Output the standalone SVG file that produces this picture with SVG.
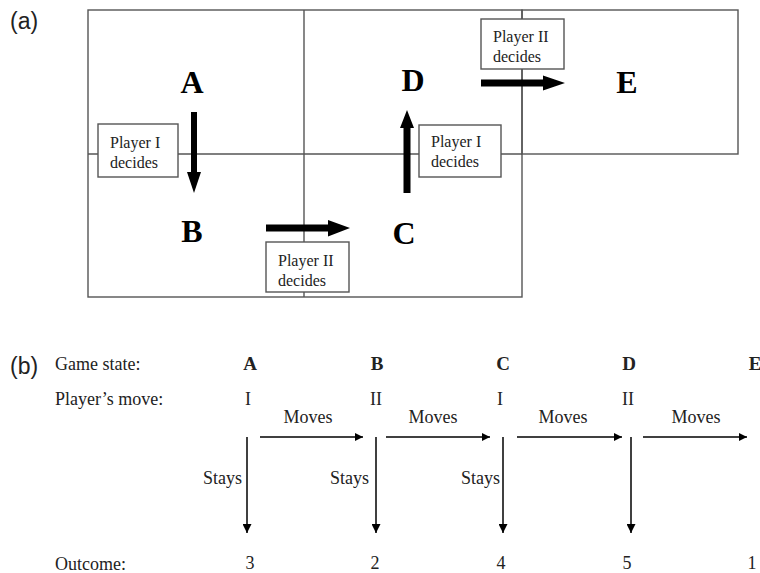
<svg xmlns="http://www.w3.org/2000/svg" width="760" height="573" viewBox="0 0 760 573">
<style>
.grid{fill:none;stroke:#555;stroke-width:1.4}
.box{fill:#fff;stroke:#555;stroke-width:1.4}
.big{font-family:"Liberation Serif",serif;font-weight:bold;font-size:32px;text-anchor:middle;fill:#000}
.bt{font-family:"Liberation Serif",serif;font-size:16px;fill:#222}
.lab{font-family:"Liberation Sans",Arial,sans-serif;font-size:23px;fill:#222}
.t{font-family:"Liberation Serif",serif;font-size:18px;fill:#222}
.st{font-family:"Liberation Serif",serif;font-size:19px;font-weight:bold;fill:#222;text-anchor:middle}
.c{text-anchor:middle}
.e{text-anchor:end}
.fat{fill:#000}
.thin{stroke:#000;stroke-width:1.5;fill:none;marker-end:url(#ah)}
</style>
<defs>
<marker id="ah" viewBox="0 0 10 10" refX="10" refY="5" markerWidth="8" markerHeight="8" markerUnits="userSpaceOnUse" orient="auto">
<path d="M0,0 L10,5 L0,10 z" fill="#000"/>
</marker>
<marker id="ahv" viewBox="0 0 10 10" refX="10" refY="5" markerWidth="9" markerHeight="9" markerUnits="userSpaceOnUse" orient="auto">
<path d="M0,0 L10,5 L0,10 z" fill="#000"/>
</marker>
</defs>
<rect width="760" height="573" fill="#fff"/>

<text class="lab" x="10" y="29">(a)</text>
<text class="lab" x="10" y="374">(b)</text>

<g id="grid">
<rect class="grid" x="88" y="10" width="434" height="287"/>
<rect class="grid" x="522" y="10" width="216" height="144"/>
<line class="grid" x1="304" y1="10" x2="304" y2="297"/>
<line class="grid" x1="88" y1="154" x2="522" y2="154"/>
</g>

<g id="state-A"><text class="big" x="192" y="93">A</text></g>
<g id="state-B"><text class="big" x="192" y="242">B</text></g>
<g id="state-C"><text class="big" x="404" y="244">C</text></g>
<g id="state-D"><text class="big" x="413" y="91">D</text></g>
<g id="state-E"><text class="big" x="627" y="93">E</text></g>

<g id="box-p1-left">
<rect class="box" x="98" y="124" width="80" height="53"/>
<text class="bt" x="110" y="148">Player I</text>
<text class="bt" x="110" y="168">decides</text>
</g>
<g id="box-p2-bottom">
<rect class="box" x="266" y="242" width="83" height="50"/>
<text class="bt" x="278" y="266">Player II</text>
<text class="bt" x="278" y="286">decides</text>
</g>
<g id="box-p1-right">
<rect class="box" x="419" y="125" width="82" height="52"/>
<text class="bt" x="431" y="147">Player I</text>
<text class="bt" x="431" y="167">decides</text>
</g>
<g id="box-p2-top">
<rect class="box" x="481" y="19" width="83" height="50"/>
<text class="bt" x="493" y="42">Player II</text>
<text class="bt" x="493" y="62">decides</text>
</g>

<g id="connectors-a">
<polygon class="fat" points="191,112 197,112 197,172 201,172 194,193 187,172 191,172"/>
<polygon class="fat" points="266,224.5 328,224.5 328,220 350,228 328,236.5 328,231.5 266,231.5"/>
<polygon class="fat" points="403.5,193 410.5,193 410.5,128 414,128 407,110 400,128 403.5,128"/>
<polygon class="fat" points="481,79.5 543,79.5 543,75.5 565,83 543,90.5 543,86.5 481,86.5"/>
</g>

<g id="row-labels">
<text class="t" x="55" y="370">Game state:</text>
<text class="t" x="55" y="405">Player’s move:</text>
<text class="t" x="55" y="570">Outcome:</text>
</g>

<g id="col-A">
<text class="st" x="250" y="370">A</text>
<text class="t c" x="248" y="405">I</text>
<text class="t c" x="250" y="569">3</text>
</g>
<g id="col-B">
<text class="st" x="377" y="370">B</text>
<text class="t c" x="376" y="405">II</text>
<text class="t c" x="375" y="569">2</text>
</g>
<g id="col-C">
<text class="st" x="503" y="370">C</text>
<text class="t c" x="500" y="405">I</text>
<text class="t c" x="501" y="569">4</text>
</g>
<g id="col-D">
<text class="st" x="629" y="370">D</text>
<text class="t c" x="628" y="405">II</text>
<text class="t c" x="627" y="569">5</text>
</g>
<g id="col-E">
<text class="st" x="755" y="370">E</text>
<text class="t c" x="752" y="569">1</text>
</g>

<g id="connectors-b">
<line class="thin" x1="260" y1="437" x2="363" y2="437"/>
<line class="thin" x1="386" y1="437" x2="490" y2="437"/>
<line class="thin" x1="517" y1="437" x2="622" y2="437"/>
<line class="thin" x1="643" y1="437" x2="747" y2="437"/>
<line class="thin" style="marker-end:url(#ahv)" x1="247" y1="437" x2="247" y2="533"/>
<line class="thin" style="marker-end:url(#ahv)" x1="376" y1="437" x2="376" y2="533"/>
<line class="thin" style="marker-end:url(#ahv)" x1="503" y1="437" x2="503" y2="533"/>
<line class="thin" style="marker-end:url(#ahv)" x1="631" y1="437" x2="631" y2="533"/>
<text class="t c" x="308" y="423">Moves</text>
<text class="t c" x="433" y="423">Moves</text>
<text class="t c" x="563" y="423">Moves</text>
<text class="t c" x="696" y="423">Moves</text>
<text class="t e" x="242" y="484">Stays</text>
<text class="t e" x="369" y="484">Stays</text>
<text class="t e" x="500" y="484">Stays</text>
</g>
</svg>
